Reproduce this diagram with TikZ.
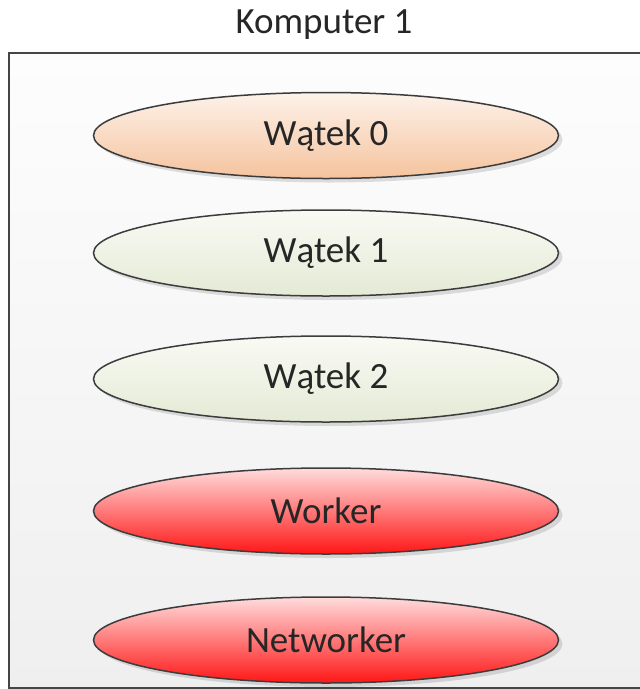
\documentclass[tikz,border=0pt]{standalone}
\usepackage{fontspec}
\setmainfont{Carlito}
\usetikzlibrary{shapes.geometric,shadows}

\definecolor{frameline}{HTML}{454545}
\definecolor{ellline}{HTML}{3C3C3C}
\definecolor{peachtop}{HTML}{FDF2EA}
\definecolor{peachbot}{HTML}{F5C39D}
\definecolor{sagetop}{HTML}{F9FAF4}
\definecolor{sagebot}{HTML}{E4EAD5}
\definecolor{redtop}{HTML}{FFDCDC}
\definecolor{redbot}{HTML}{FF1616}
\definecolor{bgtop}{HTML}{FDFDFD}
\definecolor{bgbot}{HTML}{EFEFEF}
\definecolor{txt}{HTML}{262626}

\tikzset{
  labelfont/.style={font=\fontsize{37}{42}\selectfont, text=txt},
  thread/.style={ellipse, draw=ellline, line width=1.5pt,
    minimum width=465pt, minimum height=86pt, inner sep=0pt,
    labelfont,
    drop shadow={shadow xshift=4pt, shadow yshift=-4pt, fill=black, opacity=0.12}},
  mainthread/.style={thread, top color=peachtop, bottom color=peachbot},
  workthread/.style={thread, top color=sagetop, bottom color=sagebot},
  netthread/.style={thread, top color=redtop, bottom color=redbot},
  computer/.style={rectangle, draw=frameline, line width=2.2pt,
    top color=bgtop, bottom color=bgbot, inner sep=0pt,
    minimum width=640pt, minimum height=635pt, anchor=north west}
}

\begin{document}
\begin{tikzpicture}[x=1pt, y=-1pt]
  \useasboundingbox (0,0) rectangle (640,689);
  \fill[white] (0,0) rectangle (640,689);

  % machine frame and its caption
  \node[computer] (frame) at (8,52) {};
  \node[labelfont] (title) at (324,25) {Komputer 1};

  % threads running on the machine
  \node[mainthread] (t0) at (326,135.5) {Wątek 0};
  \node[workthread] (t1) at (326,253) {Wątek 1};
  \node[workthread] (t2) at (326,379) {Wątek 2};
  \node[netthread]  (wk) at (326,511) {Worker};
  \node[netthread]  (nw) at (326,640) {Networker};
\end{tikzpicture}
\end{document}
